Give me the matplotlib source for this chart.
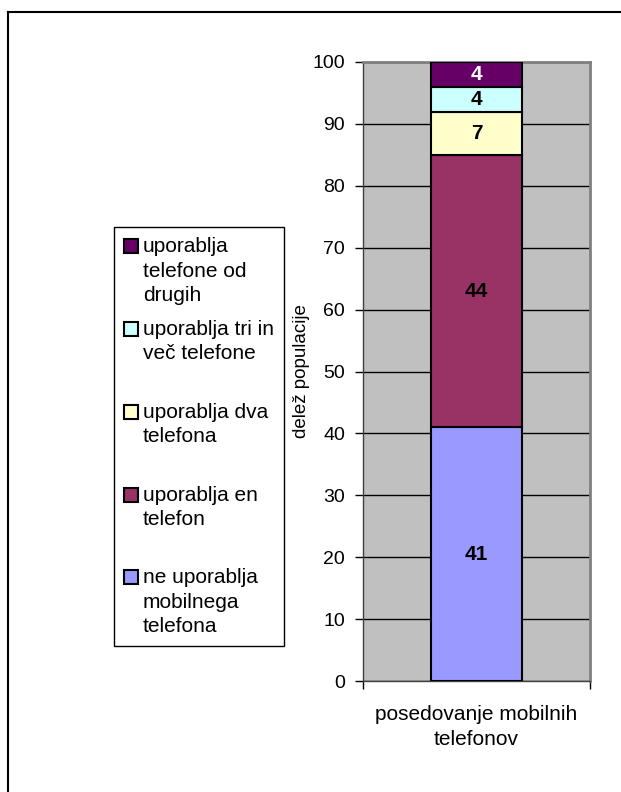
import matplotlib
matplotlib.use('Agg')
import matplotlib.pyplot as plt
from matplotlib.patches import Rectangle
from matplotlib.legend_handler import HandlerPatch
from matplotlib.lines import Line2D

plt.rcParams['font.family'] = ['Liberation Sans', 'DejaVu Sans']

# ---- data ----
categories = ['posedovanje mobilnih\ntelefonov']
series_names = ['ne uporablja\nmobilnega\ntelefona',
                'uporablja en\ntelefon',
                'uporablja dva\ntelefona',
                'uporablja tri in\nveč telefone',
                'uporablja\ntelefone od\ndrugih']
values = [41, 44, 7, 4, 4]
colors = ['#9999FF', '#993366', '#FFFFCC', '#CCFFFF', '#660066']
label_colors = ['black', 'black', 'black', 'black', 'white']
y_ticks = [0, 10, 20, 30, 40, 50, 60, 70, 80, 90, 100]
y_label = 'delež populacije'

FS = 15
FS_TICK = 14
FS_YLAB = 13.5
LS = 1.35
W, H = 621, 792

fig = plt.figure(figsize=(W / 100, H / 100), dpi=100)
ax = fig.add_axes([363 / W, 1 - 681 / H, 227 / W, 619 / H])
ax.set_facecolor('#C0C0C0')

x = range(len(categories))
bottom = [0] * len(categories)
handles = []
for name, val, col, lc in zip(series_names, values, colors, label_colors):
    bars = ax.bar(x, [val], width=0.4, bottom=bottom, color=col,
                  edgecolor='black', linewidth=1.5, zorder=3, label=name)
    ax.bar_label(bars, labels=[str(val)], label_type='center',
                 fontsize=FS, fontweight='bold', color=lc, zorder=4)
    handles.append(bars.patches[0])
    bottom = [b + val for b in bottom]

ax.set_xlim(-0.5, 0.5)
ax.set_ylim(0, 100)
ax.set_yticks(y_ticks)
ax.set_yticklabels([str(t) for t in y_ticks], fontsize=FS_TICK)
ax.yaxis.grid(True, color='black', linewidth=1, zorder=0)
ax.set_axisbelow(True)
ax.tick_params(axis='y', length=6, width=1, pad=7, color='black')

ax.set_xticks([-0.5, 0.5])
ax.set_xticklabels(['', ''])
ax.set_xticks([0], labels=categories, minor=True)
ax.tick_params(axis='x', which='major', length=6, width=1, color='black')
ax.tick_params(axis='x', which='minor', length=0, pad=17.5, labelsize=FS)
for t in ax.get_xticklabels(minor=True):
    t.set_linespacing(LS)

ax.set_ylabel(y_label, fontsize=FS_YLAB, labelpad=2)

for s in ['top', 'right']:
    ax.spines[s].set_color('#808080')
    ax.spines[s].set_linewidth(2)
for s in ['left', 'bottom']:
    ax.spines[s].set_color('#404040')
    ax.spines[s].set_linewidth(1)


class TopAlignedHandler(HandlerPatch):
    def create_artists(self, legend, orig_handle, xdescent, ydescent,
                       width, height, fontsize, trans):
        shift = LS * 0.89 * fontsize
        p = Rectangle((-xdescent, -ydescent + shift), width, width,
                      facecolor=orig_handle.get_facecolor(),
                      edgecolor='black', linewidth=1.5, transform=trans)
        return [p]


def pad3(s):
    n = s.count('\n') + 1
    return s + '\n' * (3 - n)

order = list(range(len(series_names)))[::-1]
leg = fig.legend([handles[i] for i in order],
                 [pad3(series_names[i]) for i in order],
                 loc='upper left', bbox_to_anchor=(114 / W, 1 - 227 / H),
                 bbox_transform=fig.transFigure, borderaxespad=0,
                 fontsize=FS, frameon=True, fancybox=False, shadow=False,
                 framealpha=1, edgecolor='black', handlelength=0.67,
                 handleheight=0.67, handletextpad=0.22, labelspacing=0.73,
                 borderpad=0.5,
                 handler_map={Rectangle: TopAlignedHandler()})
leg.get_frame().set_linewidth(1)
for t in leg.get_texts():
    t.set_linespacing(LS)

# outer chart border (only left and top visible)
fig.add_artist(Line2D([8 / W, 8 / W], [0, 1 - 12 / H], transform=fig.transFigure,
                      color='black', linewidth=1.5, solid_capstyle='projecting'))
fig.add_artist(Line2D([8 / W, 1], [1 - 12 / H, 1 - 12 / H], transform=fig.transFigure,
                      color='black', linewidth=1.5, solid_capstyle='projecting'))

fig.savefig('out.png', dpi=100)
